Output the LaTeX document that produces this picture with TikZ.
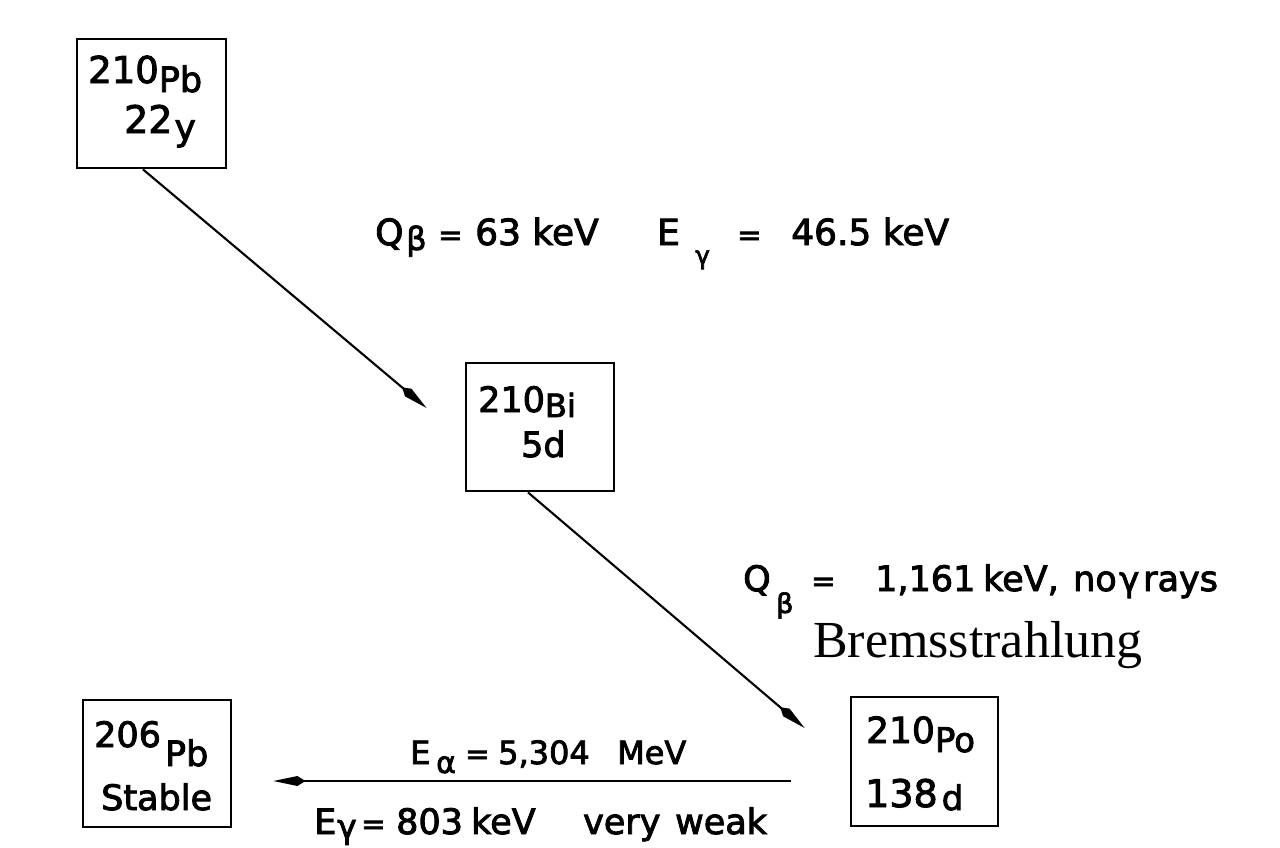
\documentclass[tikz,border=0pt]{standalone}
\usepackage{fontspec}
\setmainfont{DejaVu Sans}[FakeBold=2.5]
\newfontfamily\serifbrems{Liberation Serif}
\usetikzlibrary{arrows.meta}
\newcommand\fs[1]{\fontsize{#1}{#1}\selectfont}
\newcommand\lowered[3]{\raisebox{-#1pt}{\fs{#2}#3}}
\newcommand\putat[2]{\makebox[0pt][l]{\hspace*{#1pt}#2}}
\newcommand\eqs{{\fs{29}=}}
\begin{document}
\begin{tikzpicture}[x=1pt,y=-1pt,
  box/.style={draw,line width=2.8pt,inner sep=0pt},
  txt/.style={inner sep=0pt,anchor=base west},
  arr/.style={line width=2.1pt,-{Kite[length=32pt,width=10pt,inset=8pt]}}]
\useasboundingbox (0,0) rectangle (1280,847);
\fill[white] (0,0) rectangle (1280,847);
% boxes
\node[box,minimum width=149pt,minimum height=129pt] (pbA) at (151.5,103.5) {};
\node[box,minimum width=148pt,minimum height=128pt] (bi) at (540,427) {};
\node[box,minimum width=147pt,minimum height=129pt] (po) at (924.5,761.5) {};
\node[box,minimum width=148pt,minimum height=127pt] (pbB) at (157,763.5) {};
% box texts
\node[txt,font=\fs{37}] (pbA1) at (88,83) {210\lowered{9}{35}{Pb}};
\node[txt,font=\fs{38}] (pbA2) at (124,133) {22\kern2pt\lowered{7}{36}{y}};
\node[txt,font=\fs{35}] (bi1) at (478,412) {210\lowered{5}{32}{Bi}};
\node[txt,font=\fs{35}] (bi2) at (521,457) {5d};
\node[txt,font=\fs{36}] (po1) at (866,743) {210\lowered{9}{34}{Po}};
\node[txt,font=\fs{38}] (po2) at (865,807) {138\kern4pt\lowered{3}{34}{d}};
\node[txt,font=\fs{35}] (pbB1) at (94,747) {206\kern4pt\lowered{19}{35}{Pb}};
\node[txt,font=\fs{35}] (pbB2) at (101,810) {Stable};
% labels
\node[txt,font=\fs{36}] (lab1) at (375,245) {\putat{0}{Q}\putat{31}{\lowered{5}{32}{β}}\putat{63}{\eqs}\putat{100}{63 keV}\putat{282}{E}\putat{320}{\lowered{19}{25}{γ}}\putat{362}{\eqs}\putat{416}{46.5 keV}\hspace*{590pt}};
\node[txt,font=\fs{35}] (lab2) at (743,591) {\putat{0}{Q}\putat{33}{\lowered{22}{27}{β}}\putat{68}{\eqs}\putat{132}{1,161}\putat{240}{keV,}\putat{330}{no}\putat{376}{\lowered{0}{34}{γ}}\putat{400}{rays}\hspace*{478pt}};
\node[txt,font=\serifbrems\fs{52}] (brems) at (813,657) {Bremsstrahlung};
\node[txt,font=\fs{32}] (lab3) at (410,764) {\putat{0}{E}\putat{26}{\lowered{9}{30}{α}}\putat{55}{\eqs}\putat{88}{5,304}\putat{207}{MeV}\hspace*{277pt}};
\node[txt,font=\fs{35}] (lab4) at (314,834) {\putat{0}{E}\putat{23}{\lowered{4}{33}{γ}}\putat{47}{\eqs}\putat{82}{803}\putat{157}{keV}\putat{269}{very}\putat{361}{weak}\hspace*{452pt}};
% connector ends
\coordinate (e1) at ([shift={(-38,-19)}]bi.west);
\coordinate (e2) at ([shift={(-45,-33.5)}]po.west);
\coordinate (s3) at ([shift={(-59,19.5)}]po.west);
\coordinate (e3) at ([shift={(41,17.5)}]pbB.east);
% connectors
\draw[arr] ([xshift=-8.5pt]pbA.south) -- (e1);
\draw[arr] ([xshift=-12pt]bi.south) -- (e2);
\draw[arr] (s3) -- (e3);
\end{tikzpicture}
\end{document}
